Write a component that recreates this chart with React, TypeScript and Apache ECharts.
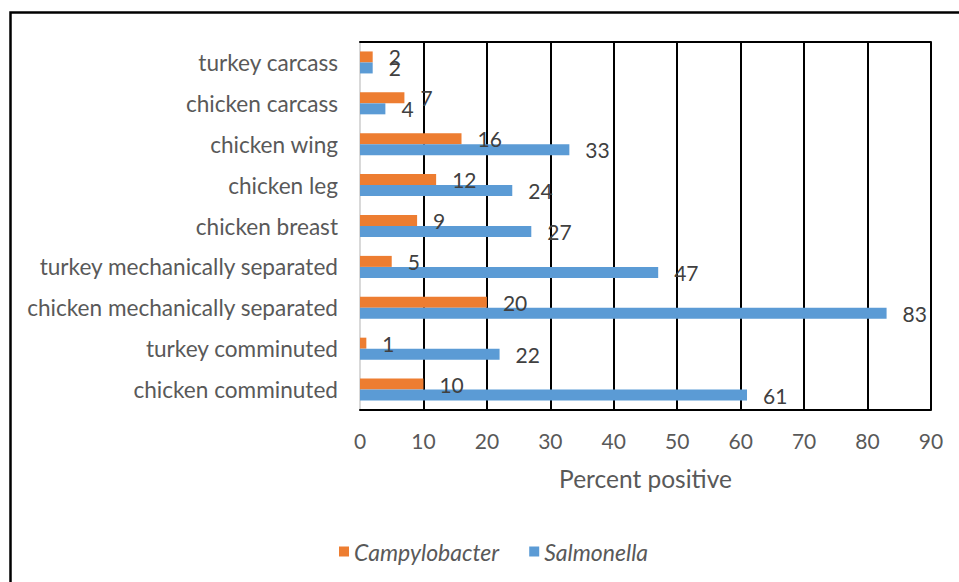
import React, { useEffect, useRef } from "react";
import * as echarts from "echarts";

const categories = [
  "chicken comminuted",
  "turkey comminuted",
  "chicken mechanically separated",
  "turkey mechanically separated",
  "chicken breast",
  "chicken leg",
  "chicken wing",
  "chicken carcass",
  "turkey carcass",
];
const campylobacter = [10, 1, 20, 5, 9, 12, 16, 7, 2];
const salmonella = [61, 22, 83, 47, 27, 24, 33, 4, 2];
const seriesNames = ["Campylobacter", "Salmonella"];
const xMin = 0;
const xMax = 90;
const xStep = 10;

const FONT = "Lato, 'Open Sans', sans-serif";
const GRAY = "#595959";

export default function App() {
  const ref = useRef<HTMLDivElement>(null);
  useEffect(() => {
    const chart = echarts.init(ref.current!, null, { renderer: "svg" });
    const labelCfg = {
      show: true,
      position: "right",
      distance: 16,
      color: "#404040",
      fontSize: 21,
      fontFamily: FONT,
    };
    chart.setOption({
      animation: false,
      backgroundColor: "#ffffff",
      grid: { left: 360, right: 28, top: 42, bottom: 172, containLabel: false },
      legend: {
        data: seriesNames,
        top: 535,
        left: 334,
        icon: "rect",
        itemWidth: 10,
        itemHeight: 10,
        itemGap: 30,
        textStyle: { fontStyle: "italic", color: GRAY, fontSize: 23, fontFamily: FONT },
      },
      xAxis: [
        {
          type: "value",
          min: xMin,
          max: xMax,
          interval: xStep,
          position: "bottom",
          axisLine: { show: true, lineStyle: { color: "#000", width: 2 } },
          axisTick: { show: false },
          axisLabel: { color: GRAY, fontSize: 21, fontFamily: FONT, margin: 20 },
          splitLine: { show: true, showMinLine: false, lineStyle: { color: "#000", width: 2 } },
          name: "Percent positive",
          nameLocation: "middle",
          nameGap: 56,
          nameTextStyle: { color: GRAY, fontSize: 24.5, fontFamily: FONT },
        },
        {
          type: "value",
          min: xMin,
          max: xMax,
          interval: xStep,
          position: "top",
          axisLine: { show: true, lineStyle: { color: "#000", width: 2 } },
          axisTick: { show: false },
          axisLabel: { show: false },
          splitLine: { show: false },
        },
      ],
      yAxis: {
        type: "category",
        data: categories,
        axisLine: { show: true, lineStyle: { color: "#d9d9d9", width: 2 } },
        axisTick: { show: false },
        axisLabel: { color: GRAY, fontSize: 22.6, fontFamily: FONT, margin: 22 },
        splitLine: { show: false },
      },
      graphic: [
        {
          type: "polyline",
          shape: { points: [[10.5, 582], [10.5, 12.5], [959, 12.5]] },
          style: { stroke: "#000", lineWidth: 2.5, fill: "none" },
          silent: true,
        },
      ],
      series: [
        {
          name: seriesNames[0],
          type: "bar",
          data: campylobacter,
          barWidth: 11,
          barGap: "0%",
          itemStyle: { color: "#ED7D31" },
          label: labelCfg,
        },
        {
          name: seriesNames[1],
          type: "bar",
          data: salmonella,
          barWidth: 11,
          barGap: "0%",
          itemStyle: { color: "#5B9BD5" },
          label: labelCfg,
        },
      ],
    });
    return () => chart.dispose();
  }, []);
  return (
    <div
      ref={ref}
      style={{ position: "fixed", left: 0, top: 0, width: 959, height: 582, background: "#fff" }}
    />
  );
}
